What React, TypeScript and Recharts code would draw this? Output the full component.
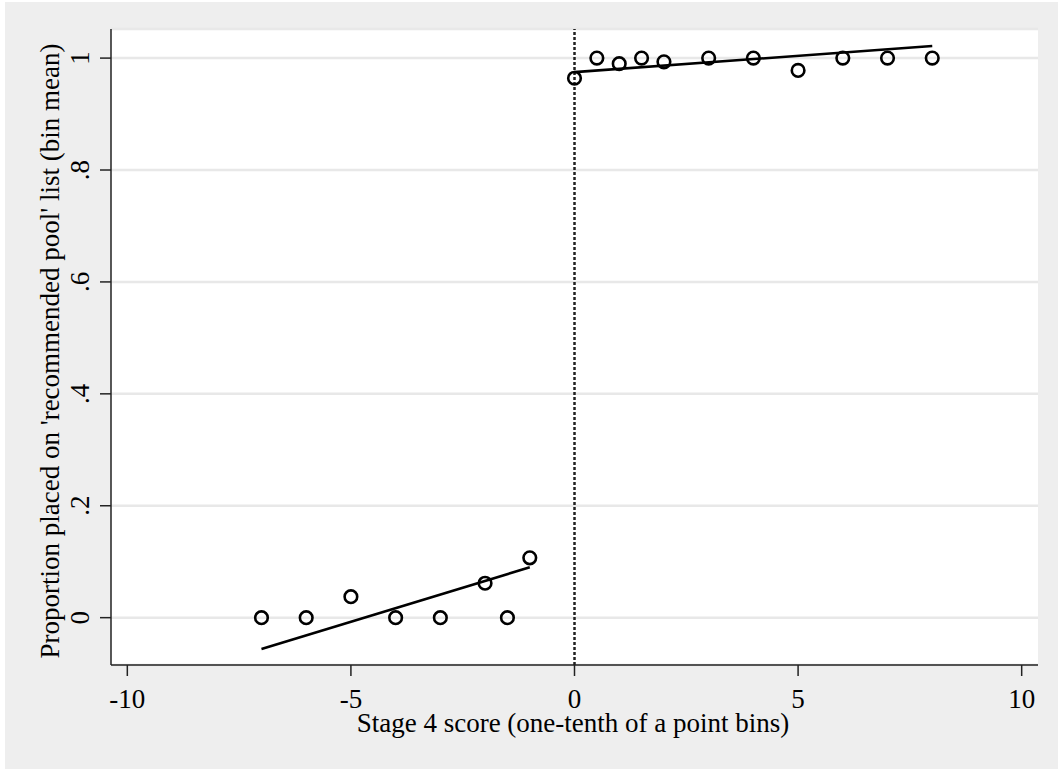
import React from "react"
import { ScatterChart, Scatter, XAxis, YAxis, CartesianGrid, ReferenceLine } from "recharts"

// Bin means, left and right of the cutoff
const leftScores = [-7, -6, -5, -4, -3, -2, -1.5, -1]
const leftShares = [0, 0, 0.0375, 0, 0, 0.0615, 0, 0.107]
const rightScores = [0, 0.5, 1, 1.5, 2, 3, 4, 5, 6, 7, 8]
const rightShares = [0.964, 1, 0.99, 1, 0.9934, 1, 1, 0.978, 1, 1, 1]

// Linear fits on each side (end points)
const leftFitScores = [-7, -1]
const leftFitShares = [-0.056, 0.09]
const rightFitScores = [0, 8]
const rightFitShares = [0.975, 1.0215]

const xTicks = [-10, -5, 0, 5, 10]
const yTicks = [0, 0.2, 0.4, 0.6, 0.8, 1]
const yTickLabels = ["0", ".2", ".4", ".6", ".8", "1"]

const xTitle = "Stage 4 score (one-tenth of a point bins)"
const yTitle = "Proportion placed on 'recommended pool' list (bin mean)"

const FONT = "'Liberation Serif', 'Times New Roman', serif"
const FONT_SIZE = 27

const toPoints = (xs: number[], ys: number[]) => xs.map((x, i) => ({ x, y: ys[i] }))

const leftData = toPoints(leftScores, leftShares)
const rightData = toPoints(rightScores, rightShares)
const leftFit = toPoints(leftFitScores, leftFitShares)
const rightFit = toPoints(rightFitScores, rightFitShares)

const HollowCircle = (props: any) => {
  if (props.cx == null || props.cy == null) return <g />
  return <circle cx={props.cx} cy={props.cy} r={6.3} fill="none" stroke="#000" strokeWidth={2.6} />
}

const NoMarker = () => <g />

const XTick = ({ x, y, payload }: any) => (
  <text x={x} y={y} dy={30} textAnchor="middle" fill="#000" fontFamily={FONT} fontSize={FONT_SIZE}>
    {payload.value}
  </text>
)

const YTick = ({ x, y, payload }: any) => {
  const i = yTicks.indexOf(payload.value)
  return (
    <text
      transform={`translate(${x - 8.7}, ${y}) rotate(-90)`}
      textAnchor="middle"
      fill="#000"
      fontFamily={FONT}
      fontSize={FONT_SIZE}
    >
      {i >= 0 ? yTickLabels[i] : payload.value}
    </text>
  )
}

export default function App() {
  return (
    <div
      style={{
        position: "absolute",
        left: 5,
        top: 2,
        width: 1053,
        height: 767,
        background: "#EEEEEE",
      }}
    >
      <ScatterChart width={1053} height={767} margin={{ top: 27, right: 20, bottom: 0, left: 0 }}>
        <CartesianGrid fill="#fff" fillOpacity={1} vertical={false} stroke="#E8E8E8" strokeWidth={2.5} />
        <XAxis
          type="number"
          dataKey="x"
          domain={[-10.365, 10.365]}
          ticks={xTicks}
          allowDataOverflow
          height={104}
          tickSize={11}
          stroke="#222"
          strokeWidth={1.5}
          tick={<XTick />}
          label={{
            content: ({ viewBox }: any) => (
              <text
                x={viewBox.x + viewBox.width / 2 - 1.5}
                y={viewBox.y + 67}
                textAnchor="middle"
                fill="#000"
                fontFamily={FONT}
                fontSize={FONT_SIZE}
              >
                {xTitle}
              </text>
            ),
          }}
        />
        <YAxis
          type="number"
          dataKey="y"
          domain={[-0.0846, 1.052]}
          ticks={yTicks}
          allowDataOverflow
          width={106}
          tickSize={11}
          stroke="#222"
          strokeWidth={1.5}
          tick={<YTick />}
          label={{
            content: ({ viewBox }: any) => (
              <text
                transform={`translate(54, ${viewBox.y + viewBox.height / 2 + 4}) rotate(-90)`}
                textAnchor="middle"
                fill="#000"
                fontFamily={FONT}
                fontSize={FONT_SIZE}
              >
                {yTitle}
              </text>
            ),
          }}
        />
        <ReferenceLine x={0} stroke="#222" strokeWidth={2.5} strokeDasharray="3 2" />
        <Scatter
          data={leftFit}
          line={{ stroke: "#000", strokeWidth: 2.6 }}
          lineType="joint"
          shape={<NoMarker />}
          isAnimationActive={false}
        />
        <Scatter
          data={rightFit}
          line={{ stroke: "#000", strokeWidth: 2.6 }}
          lineType="joint"
          shape={<NoMarker />}
          isAnimationActive={false}
        />
        <Scatter data={leftData} shape={<HollowCircle />} isAnimationActive={false} />
        <Scatter data={rightData} shape={<HollowCircle />} isAnimationActive={false} />
      </ScatterChart>
    </div>
  )
}
